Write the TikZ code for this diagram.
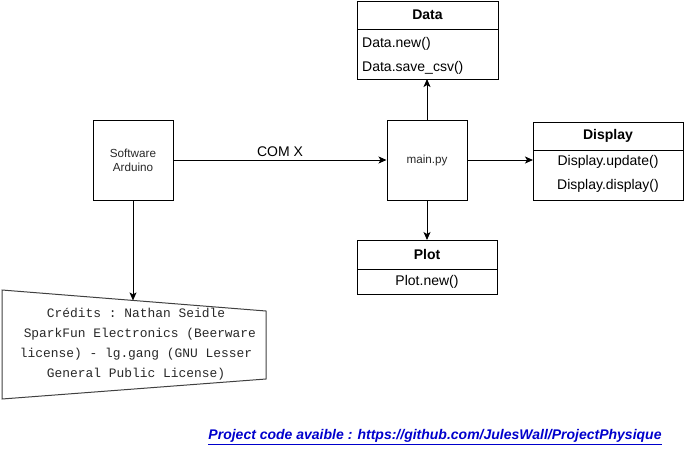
\documentclass[tikz,border=0pt]{standalone}
\usepackage{fontspec}
\setmainfont{Liberation Sans}
\setmonofont{Liberation Mono}
\usetikzlibrary{arrows.meta, positioning}
\definecolor{linkblue}{RGB}{0,0,204}
\definecolor{txtgray}{RGB}{40,40,40}

\begin{document}
\begin{tikzpicture}[x=1pt, y=-1pt,
  blk/.style={draw, line width=1pt, minimum width=80pt, minimum height=80pt, inner sep=0pt, align=center, text=txtgray, font=\fontsize{11.7}{14}\selectfont},
  hdr/.style={draw, line width=1pt, inner sep=0pt, outer sep=0pt, font=\fontsize{14}{16}\selectfont\bfseries},
  body/.style={draw, line width=1pt, inner sep=0pt, outer sep=0pt},
  meth/.style={inner sep=0pt, font=\fontsize{14}{16}\selectfont},
  link/.style={-{Stealth[length=8pt, width=7pt, inset=2pt]}, line width=1pt}
]
  \useasboundingbox (0,0) rectangle (694,451);

  % main blocks
  \node[blk] (arduino) at (133,160) {Software\\Arduino};
  \node[blk] (main) at (427,160) {main.py};

  % classes
  \node[hdr, minimum width=141pt, minimum height=28pt, anchor=north] (data) at (427.5,1) {Data};
  \node[body, minimum width=141pt, minimum height=50pt, below=0pt of data] (datab) {};
  \node[meth, anchor=west] (datanew) at (362,44) {Data.new()};
  \node[meth, anchor=west] (datasave) at (362,68) {Data.save\_csv()};

  \node[hdr, minimum width=150pt, minimum height=28pt, anchor=north] (display) at (608,122) {Display};
  \node[body, minimum width=150pt, minimum height=50pt, below=0pt of display] (displayb) {};
  \node[meth] (dispupd) at (608,162) {Display.update()};
  \node[meth] (dispdisp) at (608,186) {Display.display()};

  \node[hdr, minimum width=140pt, minimum height=29pt, anchor=north] (plot) at (427,240) {Plot};
  \node[body, minimum width=140pt, minimum height=25pt, below=0pt of plot] (plotb) {};
  \node[meth] (plotnew) at (427,282) {Plot.new()};

  % credits
  \draw[line width=1pt, black!75] (2,290) -- (266,311) -- (266,379) -- (2,399) -- cycle;
  \coordinate (credtop) at (133,300.4);
  \node[align=center, inner sep=0pt, font=\ttfamily\fontsize{12.9}{20}\selectfont, text=txtgray] (credits) at (136,344.5)
    {Crédits : Nathan Seidle\\~SparkFun Electronics (Beerware\\license) - lg.gang (GNU Lesser\\General Public License)};

  % connectors
  \draw[link] (arduino) -- node[above, font=\fontsize{14}{16}\selectfont, inner sep=3pt] (comx) {COM X} (main);
  \draw[link] (main.north) -- (main.north |- datab.south);
  \draw[link] (main.east) -- (main.east -| displayb.west);
  \draw[link] (main) -- (plot);
  \draw[link] (arduino) -- (credtop);

  % footer
  \node[text=linkblue, font=\fontsize{14}{16}\selectfont\bfseries\itshape] (repo) at (435,437)
    {\underline{Project code avaible : https://github.com/JulesWall/ProjectPhysique}};
\end{tikzpicture}
\end{document}
